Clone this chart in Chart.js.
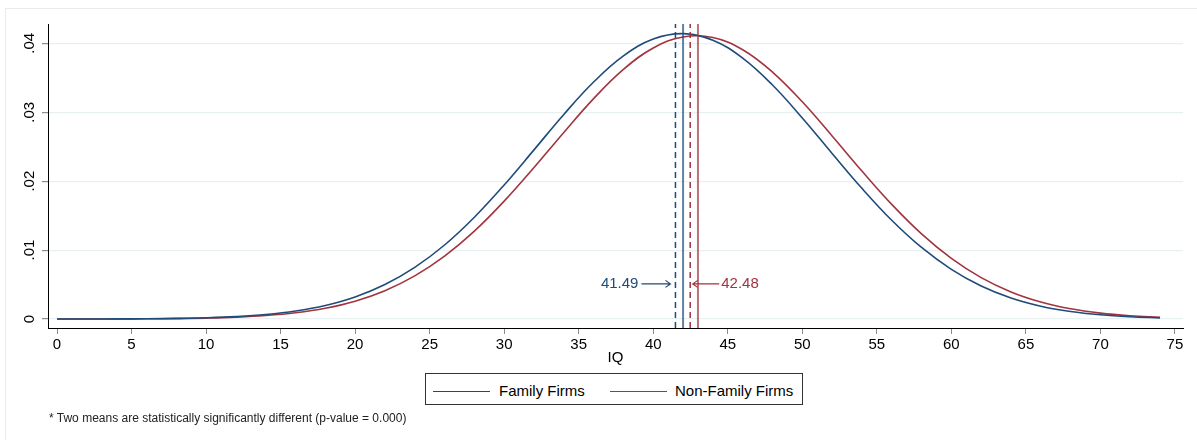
<!DOCTYPE html>
<html>
<head>
<meta charset="utf-8">
<script src="https://cdn.jsdelivr.net/npm/chart.js@4/dist/chart.umd.min.js"></script>
<style>
  body { margin: 0; background: #fff; font-family: "Liberation Sans", Arial, sans-serif; }
  #wrap { position: relative; width: 1197px; height: 440px; overflow: hidden; }
  #frame { position: absolute; left: 5px; top: 8px; right: -2px; bottom: -2px; border-left: 1px solid #e6ecef; border-top: 1px solid #e6ecef; }
  canvas { position: absolute; left: 0; top: 0; }
  #legend { position: absolute; left: 425px; top: 373px; width: 376px; height: 30px; border: 1px solid #333; background: #fff; }
  #legend .ln { position: absolute; top: 17px; height: 0; border-top: 1.5px solid; width: 57px; }
  #legend .tx { position: absolute; top: 8px; font-size: 15px; line-height: 18px; color: #000; white-space: nowrap; }
  #note { position: absolute; left: 49px; top: 410px; font-size: 12px; line-height: 16px; color: #222; white-space: nowrap; }
</style>
</head>
<body>
<div id="wrap">
  <div id="frame"></div>
  <canvas id="grafico" width="1197" height="440"></canvas>
  <div id="legend">
    <div class="ln" id="ln0" style="left:7px"></div>
    <div class="tx" id="tx0" style="left:73px"></div>
    <div class="ln" id="ln1" style="left:184px"></div>
    <div class="tx" id="tx1" style="left:249px"></div>
  </div>
  <div id="note">* Two means are statistically significantly different (p-value = 0.000)</div>
</div>
<script>
// valores
const iq = [0, 2, 4, 6, 8, 10, 12, 14, 16, 18, 20, 22, 24, 26, 28, 30, 32, 34, 36, 38,
            40, 42, 44, 46, 48, 50, 52, 54, 56, 58, 60, 62, 64, 66, 68, 70, 72, 74];
const familyFirms = [0.0000035, 0.0000085, 0.0000194, 0.0000427, 0.0000898, 0.000181, 0.000351, 0.00065,
                     0.001155, 0.001965, 0.003204, 0.005004, 0.00749, 0.01074, 0.01477, 0.01945, 0.02454,
                     0.02968, 0.03438, 0.03817, 0.04061, 0.0414, 0.04044, 0.03785, 0.03395, 0.02917,
                     0.02402, 0.01896, 0.01433, 0.01038, 0.00721, 0.004794, 0.003056, 0.001867, 0.001092,
                     0.000613, 0.000329, 0.000169];
const nonFamilyFirms = [0.0000025, 0.0000061, 0.0000141, 0.0000314, 0.0000669, 0.000137, 0.000268, 0.000504,
                        0.000907, 0.001566, 0.002591, 0.004114, 0.006256, 0.009124, 0.01275, 0.0171, 0.02197,
                        0.02707, 0.03198, 0.03622, 0.03932, 0.04092, 0.04084, 0.03907, 0.03583, 0.03151,
                        0.02656, 0.02147, 0.01663, 0.01235, 0.008799, 0.006009, 0.003933, 0.002468, 0.001485,
                        0.000857, 0.000474, 0.000251];
const seriesNames = ["Family Firms", "Non-Family Firms"];
const seriesColors = ["#1f4b7a", "#a0343f"];
const centerColors = ["rgba(31,75,122,0.7)", "rgba(160,52,63,0.7)"];
const meanValues = [41.49, 42.48];
const centerValues = [42.0, 43.0];
const meanLabels = ["41.49", "42.48"];
const arrowLevel = 0.0051;
const xTicks = [0, 5, 10, 15, 20, 25, 30, 35, 40, 45, 50, 55, 60, 65, 70, 75];
const yTicks = [0, 0.01, 0.02, 0.03, 0.04];
const yTickLabels = ["0", ".01", ".02", ".03", ".04"];

const xMin = -0.604, xMax = 75.54;
const yMin = -0.0013, yMax = 0.0428;
const fuente = '"Liberation Sans", Arial, sans-serif';

// leyenda
seriesNames.forEach((n, i) => {
    document.getElementById("tx" + i).textContent = n;
    document.getElementById("ln" + i).style.borderTopColor = seriesColors[i];
});

function curva(vals) {
    return iq.map((v, i) => ({ x: v, y: vals[i] }));
}
function vertical(v) {
    return [{ x: v, y: yMin }, { x: v, y: yMax }];
}

const datasets = [];
// lineas verticales
meanValues.forEach((m, i) => {
    datasets.push({ data: vertical(m), borderColor: seriesColors[i], borderWidth: 1.5, borderDash: [6, 4], pointRadius: 0, showLine: true, tension: 0 });
    datasets.push({ data: vertical(centerValues[i]), borderColor: centerColors[i], borderWidth: 2, pointRadius: 0, showLine: true, tension: 0 });
});
datasets.push({ label: seriesNames[0], data: curva(familyFirms), borderColor: seriesColors[0], borderWidth: 1.6, pointRadius: 0, showLine: true, tension: 0.4 });
datasets.push({ label: seriesNames[1], data: curva(nonFamilyFirms), borderColor: seriesColors[1], borderWidth: 1.6, pointRadius: 0, showLine: true, tension: 0.4 });

function flecha(ctx, x0, x1, y, color) {
    ctx.strokeStyle = color;
    ctx.lineWidth = 1.2;
    ctx.beginPath();
    ctx.moveTo(x0, y);
    ctx.lineTo(x1, y);
    const d = x1 > x0 ? -1 : 1;
    ctx.moveTo(x1 + d * 5, y - 3.5);
    ctx.lineTo(x1, y);
    ctx.lineTo(x1 + d * 5, y + 3.5);
    ctx.stroke();
}

const etiquetas = {
    id: "etiquetas",
    afterDraw(chart) {
        const { ctx, scales: { x, y } } = chart;
        ctx.save();
        ctx.font = "15px " + fuente;
        ctx.fillStyle = "#000";
        ctx.textAlign = "center";
        ctx.textBaseline = "middle";
        yTicks.forEach((v, i) => {
            const py = y.getPixelForValue(v);
            ctx.save();
            ctx.translate(30, py);
            ctx.rotate(-Math.PI / 2);
            ctx.fillText(yTickLabels[i], 0, 0);
            ctx.restore();
        });
        const py = y.getPixelForValue(arrowLevel);
        // media familiar
        const bx = x.getPixelForValue(meanValues[0]);
        ctx.fillStyle = seriesColors[0];
        ctx.textAlign = "right";
        ctx.fillText(meanLabels[0], bx - 37, py);
        flecha(ctx, bx - 34, bx - 5, py, seriesColors[0]);
        // media no familiar
        const rx = x.getPixelForValue(meanValues[1]);
        ctx.fillStyle = seriesColors[1];
        ctx.textAlign = "left";
        ctx.fillText(meanLabels[1], rx + 31, py);
        flecha(ctx, rx + 29, rx + 2.5, py, seriesColors[1]);
        ctx.restore();
    }
};

new Chart(document.getElementById("grafico").getContext("2d"), {
    type: "scatter",
    data: { datasets: datasets },
    options: {
        responsive: false,
        animation: false,
        devicePixelRatio: 1,
        layout: { padding: { left: 0, top: 24, right: 14, bottom: 73 } },
        plugins: { legend: { display: false }, tooltip: { enabled: false } },
        scales: {
            x: {
                type: "linear",
                min: xMin,
                max: xMax,
                afterBuildTicks: (s) => { s.ticks = xTicks.map(v => ({ value: v })); },
                afterFit: (s) => { s.height = 39; },
                ticks: { color: "#000", font: { size: 15, family: fuente }, padding: 2, maxRotation: 0, autoSkip: false },
                grid: { drawOnChartArea: false, tickLength: 6, tickColor: "#8c8c8c" },
                border: { color: "#000", width: 1 },
                title: { display: true, text: "IQ", color: "#000", font: { size: 15, family: fuente }, padding: 0 }
            },
            y: {
                type: "linear",
                min: yMin,
                max: yMax,
                afterBuildTicks: (s) => { s.ticks = yTicks.map(v => ({ value: v })); },
                afterFit: (s) => { s.width = 48; },
                ticks: { display: false },
                grid: { color: "#e9f0f2", lineWidth: 1.2, tickLength: 6, tickColor: "#8c8c8c" },
                border: { color: "#000", width: 1 }
            }
        }
    },
    plugins: [etiquetas]
});
</script>
</body>
</html>
